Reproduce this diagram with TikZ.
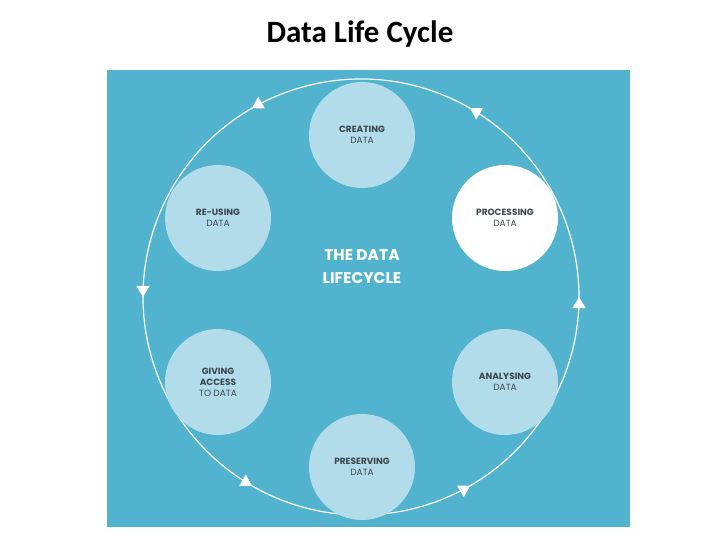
\documentclass[tikz,border=0pt]{standalone}
\usepackage{fontspec}
\setmainfont{Poppins}
\newfontfamily\titlefont{Carlito}
\usetikzlibrary{arrows.meta,decorations.markings}
\definecolor{panel}{HTML}{52B3CF}
\definecolor{bubble}{HTML}{B3DCEA}
\definecolor{ink}{HTML}{3A4750}
\tikzset{
  x=1pt,y=-1pt,
  bub/.style={circle,fill=bubble,minimum size=106pt,inner sep=0pt,align=center,text=ink,font=\fontsize{9}{11}\selectfont},
}
\begin{document}
\begin{tikzpicture}
\useasboundingbox[fill=white] (0,0) rectangle (720,540);
\node[font=\titlefont\bfseries\fontsize{31}{34}\selectfont] (title) at (360,34) {Data Life Cycle};
\fill[panel] (107,70) rectangle (630,527);
\coordinate (c) at (361,297);
\draw[white,line width=1.2pt,postaction={decorate},
  decoration={markings,mark=between positions 0.0833 and 0.99 step 0.16667 with {\arrow{Triangle[width=13pt,length=11pt]}}}]
  (c) ++(30:218) arc[start angle=30,end angle=-330,radius=218];
\node[bub] (create) at (362,135) {\textbf{CREATING}\\DATA};
\node[bub,fill=white] (process) at (505,218) {\textbf{PROCESSING}\\DATA};
\node[bub] (analyse) at (505,382) {\textbf{ANALYSING}\\DATA};
\node[bub] (preserve) at (362,467) {\textbf{PRESERVING}\\DATA};
\node[bub] (access) at (218,382) {\textbf{GIVING}\\\textbf{ACCESS}\\TO DATA};
\node[bub] (reuse) at (218,218) {\textbf{RE-USING}\\DATA};
\node[text=white,font=\bfseries\fontsize{15.5}{23}\selectfont,align=center] (centre) at (362,267) {THE DATA\\LIFECYCLE};
\end{tikzpicture}
\end{document}
